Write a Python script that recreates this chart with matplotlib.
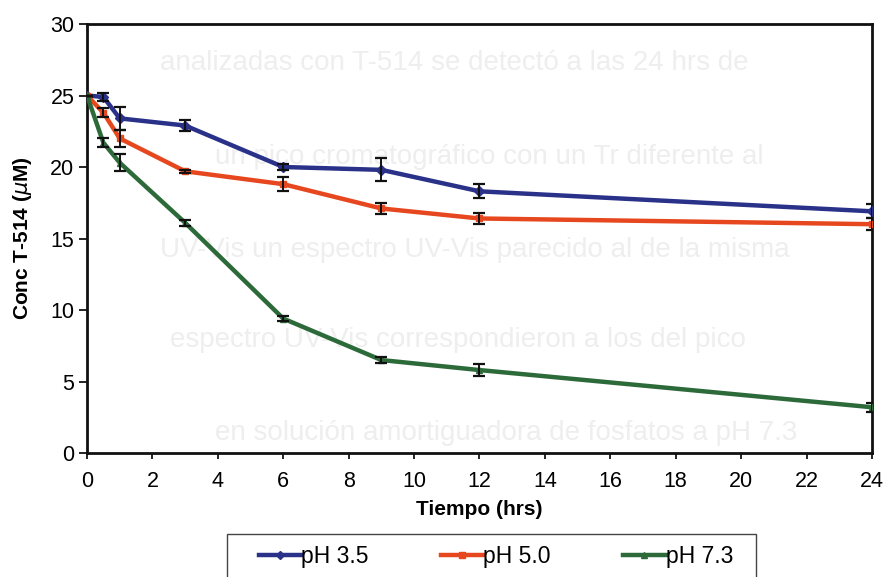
import numpy as np
import matplotlib.pyplot as plt
from matplotlib.patches import Rectangle

plt.rcParams['font.family'] = ['Liberation Sans', 'DejaVu Sans']

# sampling times (hrs)
tiempo = [0, 0.5, 1, 3, 6, 9, 12, 24]

# T-514 concentration (uM) and standard deviation per pH
ph35 = [25.0, 24.9, 23.4, 22.9, 20.0, 19.8, 18.3, 16.9]
ph35_err = [0.0, 0.3, 0.8, 0.4, 0.2, 0.8, 0.5, 0.5]
ph50 = [25.0, 23.8, 22.0, 19.7, 18.8, 17.1, 16.4, 16.0]
ph50_err = [0.0, 0.3, 0.6, 0.1, 0.5, 0.4, 0.4, 0.4]
ph73 = [25.0, 21.7, 20.3, 16.1, 9.4, 6.5, 5.8, 3.2]
ph73_err = [0.0, 0.3, 0.6, 0.2, 0.2, 0.2, 0.4, 0.3]

series = [
    ("pH 3.5", ph35, ph35_err, "#2a3188", "D"),
    ("pH 5.0", ph50, ph50_err, "#e6471e", "s"),
    ("pH 7.3", ph73, ph73_err, "#2d6a3a", "^"),
]

# page text showing through behind the figure
fondo = [
    (160, 63, "analizadas con T-514 se detectó a las 24 hrs de"),
    (215, 157, "un pico cromatográfico con un Tr diferente al"),
    (160, 250, "UV-Vis un espectro UV-Vis parecido al de la misma"),
    (170, 340, "espectro UV-Vis correspondieron a los del pico"),
    (215, 433, "en solución amortiguadora de fosfatos a pH 7.3"),
]

W, H = 887, 577
fig = plt.figure(figsize=(W / 100, H / 100), dpi=100)
ax = fig.add_axes([87 / W, 1 - 453 / H, (872 - 87) / W, (453 - 24) / H])
ax.patch.set_alpha(0)

for px, py, txt in fondo:
    fig.text(px / W, 1 - py / H, txt, fontsize=20, color="#eeeeee",
             va="center", ha="left", zorder=-1)

for label, y, err, color, mk in series:
    ax.plot(tiempo, y, color=color, lw=3.2, marker=mk, ms=5,
            mfc=color, mec=color, label=label, zorder=3)
    ax.errorbar(tiempo, y, yerr=err, fmt="none", ecolor="#111111",
                elinewidth=1.4, capsize=4.5, capthick=1.6, zorder=4)

ax.set_xlim(0, 24)
ax.set_ylim(0, 30)
ax.set_xticks(np.arange(0, 25, 2))
ax.set_yticks(np.arange(0, 31, 5))
ax.tick_params(axis="both", labelsize=15.5, width=1.2, direction="out")
ax.tick_params(axis="x", length=4, pad=9)
ax.tick_params(axis="y", length=6, pad=3)
for s in ax.spines.values():
    s.set_linewidth(2.0)
    s.set_color("#111111")

ax.set_xlabel("Tiempo (hrs)", fontsize=15, fontweight="bold", labelpad=6)
ax.set_ylabel(r"Conc T-514 ($\mu$M)", fontsize=15, fontweight="bold", labelpad=12)

# legend box runs off the bottom edge
fig.patches.append(Rectangle((227 / W, -0.05), (756 - 227) / W, 1 - 534 / H + 0.05,
                             transform=fig.transFigure, fill=False,
                             edgecolor="#444444", linewidth=1.0))
fig.legend(loc="center left", bbox_to_anchor=(259 / W, 1 - 557 / H),
           ncol=3, fontsize=16.5, frameon=False,
           handlelength=1.85, handletextpad=0.0, columnspacing=3.15,
           borderpad=0, borderaxespad=0, markerscale=0.9)

fig.savefig("out.png", dpi=100)
